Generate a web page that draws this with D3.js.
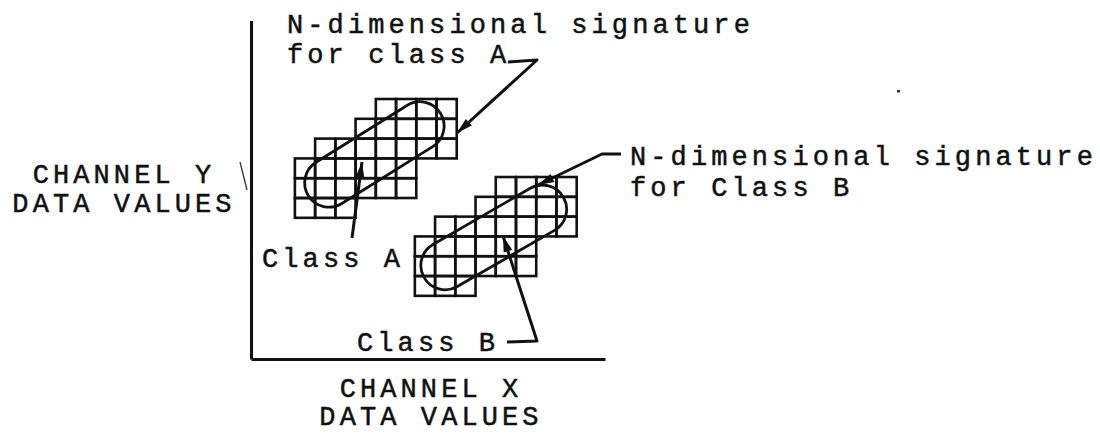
<!DOCTYPE html>
<html>
<head>
<meta charset="utf-8">
<script src="https://cdn.jsdelivr.net/npm/d3@7"></script>
<style>
  html, body { margin: 0; padding: 0; background: #fff; }
  svg { display: block; }
  text { font-family: "Liberation Mono", "DejaVu Sans Mono", monospace; font-size: 27px; letter-spacing: 4.1px; fill: #111; stroke: #111; stroke-width: 0.5px; }
</style>
</head>
<body>
<svg id="chart" width="1100" height="438"></svg>
<script>
// ---- data (grid units) ----
const classes = ["A", "B"];
const classOriginX = [2.17, 8.10];      // left edge of the cluster (cells)
const classOriginY = [13.13, 9.19];     // top edge of the cluster (cells)
const rowStart = [4, 3, 1, 0, 0, 0];    // first filled column per row
const rowEnd   = [8, 8, 8, 6, 6, 3];    // end (exclusive) column per row
const sigCenterX = [6.10, 12.00];       // signature outline centre
const sigCenterY = [10.33, 6.14];
const sigAngle = [-32, -30];            // degrees
const sigLength = [5.3, 5.55];          // distance between cap centres (cells)
const sigRadius = [1.2, 1.2];           // cap radius (cells)
const axisTitleX = ["CHANNEL X", "DATA VALUES"];
const axisTitleY = ["CHANNEL Y", "DATA VALUES"];

const svg = d3.select("#chart");
const x = d3.scaleLinear().domain([0, 17.5]).range([251, 605]);
const y = d3.scaleLinear().domain([0, 17.1]).range([359, 20.4]);
const ux = x(1) - x(0);

// axes
svg.append("g").attr("transform", `translate(${x(0)},0)`)
  .call(d3.axisLeft(y).tickValues([]).tickSizeOuter(0));
svg.append("g").attr("transform", `translate(0,${y(0)})`)
  .call(d3.axisBottom(x).tickValues([]).tickSizeOuter(0));
svg.selectAll(".domain").attr("stroke", "#111").attr("stroke-width", 3);

// grid cells
classes.forEach((c, k) => {
  const cells = [];
  rowStart.forEach((s, i) => {
    for (let col = s; col < rowEnd[i]; col++) cells.push({ col, row: i });
  });
  svg.append("g").selectAll("rect").data(cells).join("rect")
    .attr("x", d => x(classOriginX[k] + d.col))
    .attr("y", d => y(classOriginY[k] - d.row))
    .attr("width", d => x(classOriginX[k] + d.col + 1) - x(classOriginX[k] + d.col))
    .attr("height", d => y(classOriginY[k] - d.row - 1) - y(classOriginY[k] - d.row))
    .attr("fill", "none").attr("stroke", "#111").attr("stroke-width", 2.6);

  // signature outline (stadium)
  const L = sigLength[k] * ux, r = sigRadius[k] * ux;
  svg.append("g")
    .attr("transform", `translate(${x(sigCenterX[k])},${y(sigCenterY[k])}) rotate(${sigAngle[k]})`)
    .append("rect")
    .attr("x", -L / 2 - r).attr("y", -r)
    .attr("width", L + 2 * r).attr("height", 2 * r)
    .attr("rx", r).attr("ry", r)
    .attr("fill", "none").attr("stroke", "#111").attr("stroke-width", 2.8);
});

// arrows
function arrow(pathD, tip, from) {
  svg.append("path").attr("d", pathD).attr("fill", "none")
    .attr("stroke", "#111").attr("stroke-width", 3).attr("stroke-linejoin", "round");
  const ang = Math.atan2(tip[1] - from[1], tip[0] - from[0]);
  const len = 16, w = 4.5;
  const bx = tip[0] - len * Math.cos(ang), by = tip[1] - len * Math.sin(ang);
  const px = -Math.sin(ang) * w, py = Math.cos(ang) * w;
  svg.append("path")
    .attr("d", `M${tip[0]},${tip[1]} L${bx + px},${by + py} L${bx - px},${by - py} Z`)
    .attr("fill", "#111");
}
arrow("M508,62 L537,60 L457,133", [457, 133], [537, 60]);
arrow("M352,238 L362,162", [362, 162], [352, 238]);
arrow("M507,342 L537,341 L503,236", [503, 236], [537, 341]);
arrow("M621,154 L602,154 Q575,167 538,185", [538, 185], [575, 167]);

// small marks
svg.append("line").attr("x1", 240).attr("y1", 162).attr("x2", 247).attr("y2", 190)
  .attr("stroke", "#333").attr("stroke-width", 1.3);
svg.append("rect").attr("x", 897).attr("y", 90).attr("width", 3).attr("height", 2.5).attr("fill", "#333");

// labels
const labels = [
  { t: "N-dimensional signature", x: 287, y: 33 },
  { t: "for class A", x: 287, y: 63 },
  { t: "N-dimensional signature", x: 630, y: 165 },
  { t: "for Class B", x: 630, y: 196 },
  { t: "Class A", x: 262, y: 267 },
  { t: "Class B", x: 357, y: 351 }
];
svg.append("g").selectAll("text").data(labels).join("text")
  .attr("x", d => d.x).attr("y", d => d.y).text(d => d.t);

svg.append("g").selectAll("text").data(axisTitleY).join("text")
  .attr("x", 124).attr("y", (d, i) => 183 + i * 29)
  .attr("text-anchor", "middle").text(d => d);
svg.append("g").selectAll("text").data(axisTitleX).join("text")
  .attr("x", 431).attr("y", (d, i) => 397 + i * 28)
  .attr("text-anchor", "middle").text(d => d);
</script>
</body>
</html>
